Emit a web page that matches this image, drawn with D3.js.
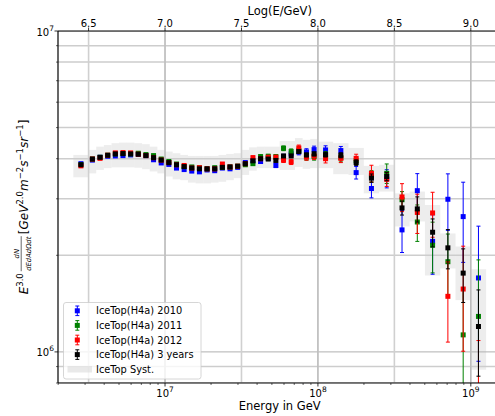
<!DOCTYPE html>
<html>
<head>
<meta charset="utf-8">
<script src="https://cdn.jsdelivr.net/npm/d3@7"></script>
<style>
  body { margin: 0; background: #fff; }
  svg text { font-family: "DejaVu Sans", sans-serif; fill: #000; }
</style>
</head>
<body>
<svg id="chart" width="495" height="416"></svg>
<script>
// bin centres in log10(E/GeV) and bin widths
const logE = [6.45,
  6.525, 6.575, 6.625, 6.675, 6.725, 6.775, 6.825, 6.875, 6.925, 6.975,
  7.025, 7.075, 7.125, 7.175, 7.225, 7.275, 7.325, 7.375, 7.425, 7.475,
  7.525, 7.575, 7.625, 7.675, 7.725, 7.775, 7.825, 7.875, 7.925, 7.975,
  8.05, 8.15, 8.25, 8.35, 8.45, 8.55, 8.65, 8.75, 8.85, 8.95, 9.05];
const binWidth = [0.1,
  0.05, 0.05, 0.05, 0.05, 0.05, 0.05, 0.05, 0.05, 0.05, 0.05,
  0.05, 0.05, 0.05, 0.05, 0.05, 0.05, 0.05, 0.05, 0.05, 0.05,
  0.05, 0.05, 0.05, 0.05, 0.05, 0.05, 0.05, 0.05, 0.05, 0.05,
  0.1, 0.1, 0.1, 0.1, 0.1, 0.1, 0.1, 0.1, 0.1, 0.1, 0.1];

// E^3 dN/dE, in units of 1e6 GeV^2 m^-2 s^-1 sr^-1
const flux2010 = [3.86,3.96,4.04,4.07,4.08,4.09,4.11,4.13,4.09,3.97, 3.88,3.84,3.74,3.70,3.66,3.64,3.69,3.67,3.74,3.72,
  3.76,3.89,3.94,3.92,4.01,3.81,4.06,4.14,4.20,4.20, 4.27,4.26,4.24,3.62,3.23,3.47,2.40,3.18,2.21,2.99, 2.64,1.70];
const flux2011 = [3.83,3.99,4.04,4.10,4.14,4.15,4.14,4.16,4.12,4.09, 3.99,3.92,3.85,3.78,3.77,3.75,3.72,3.75,3.76,3.77,
  3.79,3.83,3.86,4.06,4.07,4.06,4.31,4.21,4.24,4.05, 4.06,4.09,4.03,3.94,3.53,3.60,2.98,2.54,2.15,1.91, 1.13,1.29];
const flux2012 = [3.80,3.99,4.01,4.10,4.17,4.18,4.17,4.13,4.09,4.03, 3.96,3.89,3.83,3.81,3.74,3.75,3.72,3.72,3.85,3.77,
  3.79,3.86,4.03,4.00,4.04,4.04,3.96,3.91,4.32,4.05, 4.08,4.00,4.01,4.01,3.60,3.45,3.04,2.72,2.71,1.49, 1.57,0.70];
const flux3yr = [3.83,3.99,4.04,4.10,4.14,4.15,4.14,4.13,4.09,4.03, 3.96,3.89,3.83,3.78,3.74,3.72,3.72,3.72,3.76,3.77,
  3.79,3.86,3.94,4.00,3.99,3.95,4.08,4.08,4.21,4.11, 4.14,4.12,4.10,3.89,3.48,3.52,2.81,2.79,2.36,2.11, 1.76,1.20];

// relative statistical errors
const err2010 = [0.006,0.005,0.005,0.005,0.005,0.005,0.005,0.005,0.005,0.006, 0.006,0.006,0.006,0.006,0.007,0.007,0.008,0.008,0.009,0.009,
  0.010,0.011,0.012,0.013,0.014,0.015,0.017,0.019,0.021,0.023, 0.025,0.03,0.03,0.045,0.065,0.065,0.15,0.13,0.21,0.20, 0.28,0.45];
const err2011 = [0.006,0.005,0.005,0.005,0.005,0.005,0.005,0.005,0.005,0.006, 0.006,0.006,0.006,0.006,0.007,0.007,0.008,0.008,0.009,0.009,
  0.010,0.011,0.012,0.013,0.014,0.015,0.017,0.019,0.021,0.023, 0.025,0.03,0.03,0.025,0.04,0.07,0.06,0.13,0.18,0.22, 0.40,0.50];
const err2012 = [0.006,0.005,0.005,0.005,0.005,0.005,0.005,0.005,0.005,0.006, 0.006,0.006,0.006,0.006,0.007,0.007,0.008,0.008,0.009,0.009,
  0.010,0.011,0.012,0.013,0.014,0.015,0.017,0.019,0.021,0.023, 0.025,0.03,0.03,0.03,0.06,0.05,0.10,0.14,0.16,0.28, 0.36,0.55];
const err3yr = [0.004,0.003,0.003,0.003,0.003,0.003,0.003,0.003,0.003,0.004, 0.004,0.004,0.004,0.004,0.004,0.004,0.005,0.005,0.005,0.005,
  0.006,0.006,0.007,0.008,0.008,0.009,0.010,0.011,0.012,0.013, 0.014,0.017,0.018,0.02,0.03,0.03,0.05,0.09,0.10,0.14, 0.19,0.30];

// systematic band (upper / lower edge), same units
const systHigh = [4.11,4.26,4.36,4.41,4.47,4.49,4.49,4.47,4.44,4.36, 4.26,4.21,4.16,4.11,4.08,4.08,4.08,4.08,4.11,4.14,
  4.16,4.26,4.34,4.36,4.36,4.36,4.54,4.54,4.64,4.58, 4.61,4.52,4.47,4.32,3.80,3.83,3.12,3.16,2.87,2.34, 2.13,1.81];
const systLow = [3.50,3.60,3.69,3.74,3.76,3.76,3.76,3.75,3.71,3.65, 3.60,3.52,3.45,3.43,3.37,3.35,3.35,3.37,3.39,3.43,
  3.48,3.56,3.67,3.74,3.74,3.74,3.69,3.69,3.77,3.72, 3.74,3.74,3.58,3.56,3.12,3.16,2.46,2.55,1.73,1.82, 1.45,0.88];

const seriesNames = ['IceTop(H4a) 2010', 'IceTop(H4a) 2011', 'IceTop(H4a) 2012', 'IceTop(H4a) 3 years'];
const seriesColors = ['#0000ff', '#008000', '#ff0000', '#000000'];
const seriesFlux = [flux2010, flux2011, flux2012, flux3yr];
const seriesErr = [err2010, err2011, err2012, err3yr];

const topTicks = [6.5, 7.0, 7.5, 8.0, 8.5, 9.0];
const bottomTicks = [7, 8, 9];      // exponents of 10 (GeV)
const leftTicks = [6, 7];           // exponents of 10 (flux)

// ---- layout
const pLeft = 58, pRight = 501.4, pTop = 31, pBottom = 383;
const svg = d3.select('#chart');

const x = d3.scaleLinear().domain([6.3, 9.2]).range([pLeft, pRight]);   // log10 E
const y = d3.scaleLog().domain([0.8, 10]).range([pBottom, pTop]);        // 1e6 units

// clip for plot area
svg.append('defs').append('clipPath').attr('id', 'plotClip')
  .append('rect').attr('x', pLeft).attr('y', pTop).attr('width', pRight - pLeft).attr('height', pBottom - pTop);

// systematic boxes
svg.append('g').attr('clip-path', 'url(#plotClip)')
  .selectAll('rect').data(logE).join('rect')
  .attr('x', (d, i) => x(d - binWidth[i] / 2))
  .attr('width', (d, i) => x(d + binWidth[i] / 2) - x(d - binWidth[i] / 2))
  .attr('y', (d, i) => y(systHigh[i]))
  .attr('height', (d, i) => y(systLow[i]) - y(systHigh[i]))
  .attr('fill', '#d3d3d3')
  .attr('opacity', 0.4);

// grid
const grid = svg.append('g').attr('clip-path', 'url(#plotClip)');
const yMinor = [];
for (let e = -1; e <= 0; e++) for (let k = 1; k <= 9; k++) {
  const v = k * Math.pow(10, e);
  if (v >= 0.8 && v <= 10) yMinor.push(v);
}
yMinor.push(10);
const isDecade = v => Math.abs(Math.log10(v) - Math.round(Math.log10(v))) < 1e-9;
grid.selectAll('.hg').data(yMinor).join('line')
  .attr('x1', pLeft).attr('x2', pRight)
  .attr('y1', d => y(d)).attr('y2', d => y(d))
  .attr('stroke', d => isDecade(d) ? '#b0b0b0' : '#cdcdcd')
  .attr('stroke-width', d => isDecade(d) ? 1 : 1.5);
grid.selectAll('.vg').data(topTicks).join('line')
  .attr('x1', d => x(d)).attr('x2', d => x(d))
  .attr('y1', pTop).attr('y2', pBottom)
  .attr('stroke', '#d0d0d0').attr('stroke-width', 1.6);
grid.selectAll('.vd').data(bottomTicks).join('line')
  .attr('x1', d => x(d)).attr('x2', d => x(d))
  .attr('y1', pTop).attr('y2', pBottom)
  .attr('stroke', '#b0b0b0').attr('stroke-width', 0.9);

// data: error bars then markers, series by series
const dataG = svg.append('g').attr('clip-path', 'url(#plotClip)');
seriesFlux.forEach((flux, s) => {
  const col = seriesColors[s];
  const err = seriesErr[s];
  const g = dataG.append('g');
  const pts = logE.map((le, i) => ({ le, v: flux[i], e: flux[i] * err[i] }));
  const bars = g.selectAll('.bar').data(pts).join('g');
  bars.append('line')
    .attr('x1', d => x(d.le)).attr('x2', d => x(d.le))
    .attr('y1', d => y(d.v + d.e)).attr('y2', d => y(Math.max(d.v - d.e, 0.5)))
    .attr('stroke', col).attr('stroke-width', 1);
  [1, -1].forEach(sg => {
    bars.append('line')
      .attr('x1', d => x(d.le) - 2).attr('x2', d => x(d.le) + 2)
      .attr('y1', d => y(Math.max(d.v + sg * d.e, 0.5))).attr('y2', d => y(Math.max(d.v + sg * d.e, 0.5)))
      .attr('stroke', col).attr('stroke-width', 1);
  });
  g.selectAll('.mk').data(pts).join('rect')
    .attr('x', d => x(d.le) - 2.5).attr('y', d => y(d.v) - 2.5)
    .attr('width', 5).attr('height', 5)
    .attr('fill', col);
});

// spines
svg.append('line').attr('x1', pLeft).attr('x2', pLeft).attr('y1', pTop).attr('y2', pBottom)
  .attr('stroke', '#000').attr('stroke-width', 1.2);
svg.append('line').attr('x1', pLeft).attr('x2', pRight).attr('y1', pBottom).attr('y2', pBottom)
  .attr('stroke', '#000').attr('stroke-width', 1.2);
svg.append('line').attr('x1', pLeft).attr('x2', pRight).attr('y1', pTop).attr('y2', pTop)
  .attr('stroke', '#000').attr('stroke-width', 1.2);

// top axis (log10 E)
topTicks.forEach(t => {
  svg.append('line').attr('x1', x(t)).attr('x2', x(t)).attr('y1', pTop).attr('y2', pTop - 3.5)
    .attr('stroke', '#000').attr('stroke-width', 0.8);
  svg.append('text').attr('x', x(t)).attr('y', 27).attr('text-anchor', 'middle')
    .attr('font-size', 10).text(t.toFixed(1));
});
svg.append('text').attr('x', (pLeft + pRight) / 2).attr('y', 14.5).attr('text-anchor', 'middle')
  .attr('font-size', 11.5).text('Log(E/GeV)');

// bottom axis (energy, log scale)
for (let e = 6; e <= 9; e++) for (let k = 1; k <= 9; k++) {
  const le = e + Math.log10(k);
  if (le < 6.3 || le > 9.2) continue;
  const major = k === 1;
  svg.append('line').attr('x1', x(le)).attr('x2', x(le)).attr('y1', pBottom).attr('y2', pBottom + (major ? 3.5 : 2))
    .attr('stroke', '#000').attr('stroke-width', major ? 0.8 : 0.6);
}
bottomTicks.forEach(ex => {
  const t = svg.append('text').attr('x', x(ex)).attr('y', 396.5).attr('text-anchor', 'middle').attr('font-size', 10);
  t.append('tspan').text('10');
  t.append('tspan').attr('dy', -5).attr('font-size', 7.5).text(ex);
});
svg.append('text').attr('x', (pLeft + pRight) / 2).attr('y', 410).attr('text-anchor', 'middle')
  .attr('font-size', 11.5).text('Energy in GeV');

// left axis
yMinor.forEach(v => {
  const major = isDecade(v);
  svg.append('line').attr('x1', pLeft).attr('x2', pLeft - (major ? 3.5 : 2))
    .attr('y1', y(v)).attr('y2', y(v)).attr('stroke', '#000').attr('stroke-width', major ? 0.8 : 0.6);
});
leftTicks.forEach(ex => {
  const t = svg.append('text').attr('x', 54).attr('y', y(Math.pow(10, ex - 6)) + 4.5)
    .attr('text-anchor', 'end').attr('font-size', 10);
  t.append('tspan').text('10');
  t.append('tspan').attr('dy', -5).attr('font-size', 7.5).text(ex);
});

// y label built piece by piece
const ylOuter = svg.append('g').attr('transform', 'translate(28,207) rotate(-90)');
const yl = ylOuter.append('g');
let cx = 0;
function piece(str, size, dy, italic) {
  const t = yl.append('text').attr('x', cx).attr('y', dy).attr('font-size', size)
    .attr('font-style', italic ? 'italic' : 'normal').text(str);
  cx += t.node().getComputedTextLength();
}
piece('E', 12, 0, true);
piece('3.0', 8.5, -5.5, false);
cx += 2;
{
  const num = yl.append('text').attr('y', -8.6).attr('font-size', 6.8).attr('font-style', 'italic')
    .attr('text-anchor', 'middle').text('dN');
  const den = yl.append('text').attr('y', 2.6).attr('font-size', 6.8).attr('font-style', 'italic')
    .attr('text-anchor', 'middle').text('dEdAdΩdt');
  const w = Math.max(num.node().getComputedTextLength(), den.node().getComputedTextLength()) + 1;
  num.attr('x', cx + w / 2);
  den.attr('x', cx + w / 2);
  yl.append('line').attr('x1', cx).attr('x2', cx + w).attr('y1', -6.8).attr('y2', -6.8)
    .attr('stroke', '#000').attr('stroke-width', 0.6);
  cx += w + 2;
}
piece('[', 12, 0, false);
piece('GeV', 12, 0, true);
piece('2.0', 8.5, -5.5, false);
piece('m', 12, 0, true);
piece('\u22122', 8.5, -5.5, false);
piece('s', 12, 0, true);
piece('\u22121', 8.5, -5.5, false);
piece('sr', 12, 0, true);
piece('\u22121', 8.5, -5.5, false);
piece(']', 12, 0, false);
yl.attr('transform', `translate(${-cx / 2},0)`);

// legend
const lg = svg.append('g').attr('transform', 'translate(63.5,302.5)');
lg.append('rect').attr('width', 137.5).attr('height', 76.5).attr('rx', 2.5)
  .attr('fill', '#fff').attr('fill-opacity', 0.8).attr('stroke', '#cccccc').attr('stroke-width', 0.8);
seriesNames.forEach((name, s) => {
  const cy = 8.3 + s * 14.6;
  const col = seriesColors[s];
  lg.append('line').attr('x1', 13.8).attr('x2', 13.8).attr('y1', cy - 4.8).attr('y2', cy + 4.8)
    .attr('stroke', col).attr('stroke-width', 1);
  [-4.8, 4.8].forEach(o => lg.append('line').attr('x1', 11.8).attr('x2', 15.8)
    .attr('y1', cy + o).attr('y2', cy + o).attr('stroke', col).attr('stroke-width', 1));
  lg.append('rect').attr('x', 11.3).attr('y', cy - 2.5).attr('width', 5).attr('height', 5).attr('fill', col);
  lg.append('text').attr('x', 32.5).attr('y', cy + 3.6).attr('font-size', 9.8).text(name);
});
lg.append('rect').attr('x', 4).attr('y', 63.5).attr('width', 24.5).attr('height', 6.5)
  .attr('fill', '#d3d3d3').attr('opacity', 0.5);
lg.append('text').attr('x', 32.5).attr('y', 66.4 + 3.6).attr('font-size', 9.8).text('IceTop Syst.');
</script>
</body>
</html>
